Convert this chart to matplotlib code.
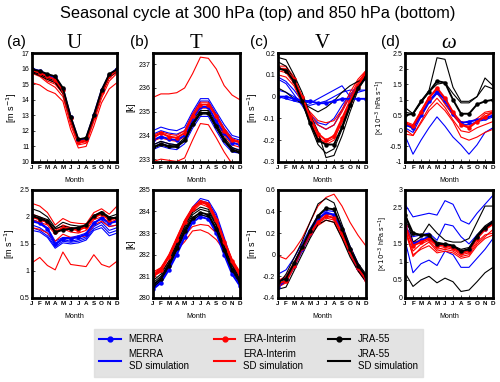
import matplotlib
matplotlib.use('Agg')
import matplotlib.pyplot as plt
from matplotlib.lines import Line2D

plt.rcParams['font.family'] = ['Liberation Sans', 'DejaVu Sans']

months = ['J', 'F', 'M', 'A', 'M', 'J', 'J', 'A', 'S', 'O', 'N', 'D']
x = list(range(12))

# ---- 300 hPa U
u300_merra = [16.0, 15.85, 15.6, 15.45, 14.7, 12.9, 11.4, 11.5, 13.0, 14.6, 15.6, 16.0]
u300_era = [15.9, 15.75, 15.5, 15.3, 14.6, 12.8, 11.3, 11.4, 12.9, 14.5, 15.5, 15.9]
u300_jra = [15.95, 15.85, 15.65, 15.5, 14.75, 12.9, 11.45, 11.55, 13.0, 14.6, 15.65, 15.95]
u300_merra_sd = [[15.95, 15.8, 15.55, 15.4, 14.65, 12.85, 11.35, 11.45, 12.95, 14.55, 15.55, 15.95],
                 [15.9, 15.75, 15.45, 15.3, 14.6, 12.8, 11.3, 11.4, 12.9, 14.5, 15.5, 15.9]]
u300_era_sd = [[15.1, 14.95, 14.6, 14.4, 13.9, 12.1, 10.9, 11.0, 12.3, 13.8, 14.7, 15.1],
               [15.8, 15.6, 15.2, 15.0, 14.4, 12.6, 11.2, 11.3, 12.8, 14.3, 15.4, 15.8],
               [15.85, 15.65, 15.35, 15.1, 14.5, 12.7, 11.25, 11.35, 12.85, 14.4, 15.45, 15.85],
               [15.7, 15.5, 15.1, 14.8, 14.2, 12.4, 11.1, 11.2, 12.6, 14.1, 15.2, 15.7]]
u300_jra_sd = [[15.75, 15.55, 15.3, 15.1, 14.4, 12.7, 11.3, 11.4, 12.8, 14.4, 15.45, 15.8],
               [15.8, 15.65, 15.4, 15.2, 14.5, 12.75, 11.35, 11.45, 12.9, 14.5, 15.5, 15.85]]

# ---- 300 hPa T
t300_merra = [233.8, 233.95, 233.85, 233.8, 234.0, 234.7, 235.2, 235.2, 234.6, 234.1, 233.7, 233.6]
t300_era = [233.9, 234.1, 233.95, 233.9, 234.1, 234.8, 235.3, 235.3, 234.8, 234.2, 233.8, 233.7]
t300_jra = [233.5, 233.65, 233.55, 233.55, 233.8, 234.5, 234.95, 234.95, 234.4, 233.8, 233.4, 233.3]
t300_merra_sd = [[234.2, 234.35, 234.25, 234.2, 234.35, 235.0, 235.55, 235.55, 235.0, 234.45, 234.0, 233.9],
                 [234.05, 234.2, 234.1, 234.05, 234.2, 234.9, 235.45, 235.45, 234.9, 234.3, 233.9, 233.8],
                 [233.6, 233.75, 233.65, 233.6, 233.8, 234.45, 234.95, 234.95, 234.35, 233.8, 233.45, 233.4],
                 [233.4, 233.55, 233.45, 233.4, 233.65, 234.3, 234.8, 234.8, 234.2, 233.65, 233.3, 233.25]]
t300_era_sd = [[235.6, 235.75, 235.75, 235.8, 236.0, 236.6, 237.3, 237.25, 236.8, 236.1, 235.7, 235.5],
               [232.9, 233.0, 232.95, 232.9, 233.05, 233.8, 234.5, 234.45, 233.9, 233.3, 232.8, 232.7],
               [234.0, 234.15, 234.05, 234.0, 234.2, 234.9, 235.4, 235.4, 234.85, 234.3, 233.85, 233.75],
               [233.75, 233.9, 233.8, 233.75, 233.95, 234.65, 235.15, 235.15, 234.6, 234.0, 233.6, 233.5]]
t300_jra_sd = [[233.45, 233.6, 233.5, 233.5, 233.75, 234.4, 234.9, 234.9, 234.3, 233.75, 233.35, 233.25],
               [233.6, 233.75, 233.65, 233.6, 233.9, 234.6, 235.05, 235.05, 234.5, 233.9, 233.5, 233.35]]

# ---- 300 hPa V
v300_merra = [0.0, 0.0, -0.01, -0.02, -0.02, -0.03, -0.03, -0.02, -0.01, -0.01, -0.01, -0.01]
v300_era = [0.13, 0.12, 0.08, 0.0, -0.09, -0.17, -0.2, -0.18, -0.1, -0.02, 0.05, 0.11]
v300_jra = [0.13, 0.12, 0.07, -0.02, -0.12, -0.2, -0.22, -0.22, -0.14, -0.04, 0.04, 0.09]
v300_merra_sd = [[0.03, 0.02, 0.0, -0.02, -0.03, -0.01, 0.01, 0.03, 0.05, 0.0, 0.02, 0.03],
                 [0.08, 0.06, 0.01, -0.04, -0.1, -0.13, -0.15, -0.13, -0.06, 0.0, 0.05, 0.08],
                 [0.09, 0.07, 0.03, -0.02, -0.08, -0.12, -0.13, -0.1, -0.04, 0.01, 0.05, 0.09],
                 [0.0, -0.01, -0.02, -0.03, -0.04, -0.03, -0.02, 0.0, 0.02, 0.03, 0.03, 0.03]]
v300_era_sd = [[0.14, 0.14, 0.09, 0.0, -0.1, -0.18, -0.22, -0.2, -0.11, -0.02, 0.06, 0.12],
               [0.12, 0.11, 0.06, -0.02, -0.08, -0.13, -0.15, -0.13, -0.07, 0.0, 0.07, 0.11],
               [0.1, 0.09, 0.05, -0.03, -0.07, -0.11, -0.12, -0.11, -0.06, 0.02, 0.08, 0.12],
               [0.13, 0.13, 0.07, -0.01, -0.11, -0.19, -0.21, -0.19, -0.12, -0.03, 0.05, 0.1]]
v300_jra_sd = [[0.18, 0.17, 0.1, 0.02, -0.08, -0.16, -0.28, -0.27, -0.18, -0.07, 0.03, 0.09],
               [0.04, 0.02, -0.01, -0.03, -0.05, -0.07, -0.05, -0.02, 0.02, 0.05, 0.07, 0.08],
               [0.16, 0.14, 0.08, -0.02, -0.13, -0.22, -0.26, -0.24, -0.15, -0.05, 0.05, 0.1]]

# ---- 300 hPa omega
w300_merra = [0.2, 0.1, 0.5, 0.95, 1.25, 1.0, 0.55, 0.25, 0.3, 0.35, 0.4, 0.5]
w300_era = [0.25, 0.15, 0.6, 1.05, 1.38, 1.05, 0.6, 0.2, 0.1, 0.3, 0.45, 0.6]
w300_jra = [0.5, 0.55, 0.95, 1.25, 1.6, 1.55, 1.0, 0.55, 0.55, 0.85, 0.95, 1.0]
w300_merra_sd = [[-0.15, -0.75, -0.3, 0.1, 0.45, 0.15, -0.2, -0.45, -0.75, -0.45, -0.05, 0.1],
                 [0.1, -0.05, 0.45, 0.9, 1.2, 0.9, 0.5, 0.2, 0.2, 0.3, 0.35, 0.45]]
w300_era_sd = [[0.05, -0.15, 0.3, 0.75, 1.05, 0.75, 0.35, 0.0, -0.05, 0.1, 0.2, 0.3],
               [-0.1, -0.15, 0.25, 0.65, 0.9, 0.65, 0.3, -0.2, -0.3, -0.2, -0.05, 0.05],
               [0.3, 0.2, 0.65, 1.1, 1.3, 1.0, 0.6, 0.3, 0.25, 0.4, 0.6, 0.65],
               [0.25, 0.05, 0.5, 0.95, 1.25, 0.85, 0.5, 0.2, 0.15, 0.3, 0.55, 0.6]]
w300_jra_sd = [[0.75, 0.55, 0.95, 1.3, 2.35, 2.3, 1.4, 0.95, 0.95, 1.1, 1.7, 1.45],
               [0.6, 0.55, 0.9, 1.25, 1.5, 1.55, 1.2, 0.9, 0.9, 1.1, 1.45, 1.35]]

# ---- 850 hPa U
u850_merra = [1.92, 1.88, 1.78, 1.5, 1.6, 1.6, 1.62, 1.68, 1.88, 1.98, 1.88, 1.92]
u850_era = [2.0, 1.95, 1.9, 1.72, 1.8, 1.78, 1.75, 1.82, 2.0, 2.05, 1.95, 1.98]
u850_jra = [2.02, 1.97, 1.92, 1.72, 1.76, 1.78, 1.8, 1.85, 2.02, 2.08, 1.98, 1.98]
u850_merra_sd = [[1.8, 1.75, 1.65, 1.45, 1.55, 1.53, 1.55, 1.6, 1.78, 1.85, 1.7, 1.75],
                 [1.85, 1.8, 1.7, 1.48, 1.58, 1.55, 1.58, 1.63, 1.82, 1.9, 1.75, 1.8],
                 [1.75, 1.72, 1.62, 1.42, 1.52, 1.5, 1.52, 1.57, 1.75, 1.8, 1.65, 1.7],
                 [1.95, 1.9, 1.8, 1.55, 1.62, 1.62, 1.65, 1.7, 1.9, 1.95, 1.82, 1.85]]
u850_era_sd = [[1.15, 1.25, 1.1, 1.02, 1.35, 1.12, 1.1, 1.08, 1.3, 1.12, 1.07, 1.18],
               [2.25, 2.2, 2.08, 1.85, 1.97, 1.9, 1.88, 1.87, 2.08, 2.15, 2.05, 2.2],
               [1.8, 1.77, 1.7, 1.55, 1.68, 1.62, 1.62, 1.65, 1.85, 1.92, 1.82, 1.85],
               [2.05, 2.0, 1.92, 1.75, 1.85, 1.8, 1.78, 1.8, 1.98, 2.05, 1.95, 2.0],
               [1.95, 1.9, 1.85, 1.68, 1.78, 1.72, 1.7, 1.75, 1.95, 2.0, 1.9, 1.95]]
u850_jra_sd = [[2.15, 2.1, 2.0, 1.8, 1.9, 1.85, 1.83, 1.83, 2.02, 2.1, 2.0, 2.05],
               [2.05, 2.0, 1.95, 1.78, 1.83, 1.8, 1.78, 1.82, 2.0, 2.07, 1.97, 2.0]]

# ---- 850 hPa T
t850_merra = [280.4, 280.7, 281.3, 282.0, 282.8, 283.5, 283.75, 283.65, 283.0, 282.0, 281.1, 280.55]
t850_era = [281.0, 281.3, 281.9, 282.7, 283.5, 284.1, 284.45, 284.3, 283.6, 282.6, 281.7, 281.1]
t850_jra = [280.6, 280.9, 281.5, 282.3, 283.1, 283.7, 283.95, 283.85, 283.2, 282.2, 281.3, 280.75]
t850_merra_sd = [[280.5, 280.9, 281.6, 282.5, 283.5, 284.2, 284.6, 284.5, 283.9, 282.8, 281.7, 280.7],
                 [280.45, 280.8, 281.5, 282.4, 283.4, 284.1, 284.5, 284.4, 283.8, 282.7, 281.6, 280.6],
                 [280.4, 280.75, 281.35, 282.1, 282.9, 283.6, 283.85, 283.75, 283.1, 282.1, 281.15, 280.55]]
t850_era_sd = [[281.1, 281.4, 282.0, 282.8, 283.6, 284.2, 284.5, 284.4, 283.7, 282.7, 281.8, 281.2],
               [280.95, 281.25, 281.85, 282.6, 283.4, 284.0, 284.35, 284.2, 283.5, 282.5, 281.6, 281.0],
               [281.05, 281.35, 281.95, 282.75, 283.55, 284.15, 284.45, 284.35, 283.65, 282.65, 281.75, 281.15],
               [281.2, 281.4, 281.9, 282.4, 282.9, 283.3, 283.4, 283.35, 283.0, 282.4, 281.7, 281.2],
               [281.0, 281.2, 281.7, 282.2, 282.6, 283.1, 283.15, 283.0, 282.7, 282.2, 281.6, 281.0]]
t850_jra_sd = [[280.7, 281.0, 281.6, 282.4, 283.2, 283.85, 284.1, 284.0, 283.35, 282.35, 281.4, 280.85],
               [280.5, 280.8, 281.4, 282.2, 283.0, 283.6, 283.85, 283.75, 283.1, 282.1, 281.2, 280.65],
               [280.8, 281.1, 281.7, 282.5, 283.3, 283.95, 284.2, 284.1, 283.4, 282.4, 281.5, 280.9]]

# ---- 850 hPa V
v850_merra = [-0.3, -0.23, -0.1, 0.05, 0.2, 0.33, 0.39, 0.37, 0.22, 0.04, -0.12, -0.22]
v850_era = [-0.27, -0.24, -0.1, 0.06, 0.2, 0.3, 0.36, 0.34, 0.2, 0.03, -0.12, -0.23]
v850_jra = [-0.25, -0.22, -0.08, 0.07, 0.22, 0.36, 0.43, 0.42, 0.24, 0.05, -0.1, -0.2]
v850_merra_sd = [[-0.18, -0.14, -0.03, 0.1, 0.24, 0.36, 0.41, 0.4, 0.26, 0.08, -0.08, -0.2],
                 [-0.3, -0.25, -0.12, 0.03, 0.18, 0.3, 0.36, 0.34, 0.2, 0.02, -0.14, -0.25],
                 [-0.25, -0.2, -0.08, 0.06, 0.21, 0.34, 0.39, 0.37, 0.23, 0.05, -0.11, -0.22]]
v850_era_sd = [[-0.01, -0.04, 0.04, 0.15, 0.3, 0.45, 0.53, 0.56, 0.45, 0.3, 0.18, 0.08],
               [-0.28, -0.25, -0.1, 0.05, 0.19, 0.29, 0.34, 0.32, 0.18, 0.02, -0.13, -0.24],
               [-0.24, -0.2, -0.07, 0.07, 0.21, 0.32, 0.38, 0.36, 0.22, 0.04, -0.1, -0.2],
               [-0.3, -0.26, -0.12, 0.04, 0.17, 0.27, 0.32, 0.3, 0.16, 0.0, -0.15, -0.25]]
v850_jra_sd = [[-0.28, -0.18, -0.03, 0.12, 0.3, 0.47, 0.52, 0.48, 0.28, 0.08, -0.08, -0.18],
               [-0.32, -0.3, -0.15, 0.0, 0.15, 0.28, 0.32, 0.3, 0.15, -0.02, -0.15, -0.25]]

# ---- 850 hPa omega
w850_merra = [2.0, 1.5, 1.6, 1.7, 1.48, 1.48, 1.42, 1.28, 1.32, 1.68, 1.92, 2.08]
w850_era = [2.0, 1.45, 1.55, 1.65, 1.45, 1.45, 1.4, 1.25, 1.3, 1.65, 1.9, 2.05]
w850_jra = [2.3, 1.8, 1.75, 1.75, 1.5, 1.5, 1.45, 1.3, 1.35, 1.7, 1.95, 2.1]
w850_merra_sd = [[2.6, 2.25, 2.3, 2.35, 2.3, 2.7, 2.6, 2.15, 2.05, 2.35, 2.6, 2.85],
                 [2.0, 1.7, 1.75, 1.8, 1.6, 2.05, 2.0, 1.7, 1.5, 1.75, 1.95, 2.15],
                 [1.6, 0.7, 0.95, 1.05, 0.9, 1.3, 1.2, 0.85, 0.85, 1.1, 1.35, 1.65]]
w850_era_sd = [[1.95, 1.15, 1.4, 1.55, 1.3, 1.35, 1.3, 1.15, 1.2, 1.5, 1.7, 1.9],
               [1.9, 1.3, 1.5, 1.6, 1.35, 1.4, 1.35, 1.2, 1.25, 1.55, 1.75, 1.8],
               [2.05, 1.55, 1.6, 1.7, 1.5, 1.5, 1.45, 1.3, 1.35, 1.7, 1.95, 2.1],
               [1.85, 1.2, 1.35, 1.45, 1.25, 1.3, 1.25, 1.1, 1.15, 1.45, 1.65, 1.75]]
w850_jra_sd = [[0.7, 0.32, 0.5, 0.6, 0.42, 0.55, 0.45, 0.18, 0.22, 0.45, 0.7, 0.85],
               [2.4, 1.55, 1.7, 2.05, 1.8, 1.6, 1.55, 1.55, 1.65, 2.1, 2.55, 2.55],
               [2.15, 1.75, 1.75, 1.7, 1.55, 1.5, 1.45, 1.35, 1.4, 1.75, 2.0, 2.15]]

blue, red = '#0000ff', '#ff0000'

fig = plt.figure(figsize=(5.0, 3.82), dpi=100)
fig.text(0.515, 0.965, 'Seasonal cycle at 300 hPa (top) and 850 hPa (bottom)',
         ha='center', va='center', fontsize=11.8)

lefts = [0.064, 0.306, 0.556, 0.81]
widths = [0.170, 0.174, 0.176, 0.176]
rows = [(0.576, 0.285), (0.220, 0.283)]
letter_x = [-0.29, -0.27, -0.32, -0.27]

panels = [
    [(u300_merra, u300_era, u300_jra, u300_merra_sd, u300_era_sd, u300_jra_sd, (10, 17), range(10, 18)),
     (t300_merra, t300_era, t300_jra, t300_merra_sd, t300_era_sd, t300_jra_sd, (232.88, 237.47), range(233, 238)),
     (v300_merra, v300_era, v300_jra, v300_merra_sd, v300_era_sd, v300_jra_sd, (-0.3, 0.2),
      [-0.3, -0.2, -0.1, 0, 0.1, 0.2]),
     (w300_merra, w300_era, w300_jra, w300_merra_sd, w300_era_sd, w300_jra_sd, (-1, 2.5),
      [-1, -0.5, 0, 0.5, 1, 1.5, 2, 2.5])],
    [(u850_merra, u850_era, u850_jra, u850_merra_sd, u850_era_sd, u850_jra_sd, (0.5, 2.5),
      [0.5, 1, 1.5, 2, 2.5]),
     (t850_merra, t850_era, t850_jra, t850_merra_sd, t850_era_sd, t850_jra_sd, (280, 285), range(280, 286)),
     (v850_merra, v850_era, v850_jra, v850_merra_sd, v850_era_sd, v850_jra_sd, (-0.4, 0.6),
      [-0.4, -0.2, 0, 0.2, 0.4, 0.6]),
     (w850_merra, w850_era, w850_jra, w850_merra_sd, w850_era_sd, w850_jra_sd, (0, 3),
      [0, 0.5, 1, 1.5, 2, 2.5, 3])],
]

ylabels = ['[m s$^{-1}$]', '[k]', '[m s$^{-1}$]', '[$\\times10^{-3}$ hPa s$^{-1}$]']
titles = ['U', 'T', 'V', '\u03c9']
letters = ['(a)', '(b)', '(c)', '(d)']

for r, (bot, h) in enumerate(rows):
    for c in range(4):
        merra, era, jra, msd, esd, jsd, ylim, yt = panels[r][c]
        ax = fig.add_axes([lefts[c], bot, widths[c], h])
        for line in msd:
            ax.plot(x, line, color=blue, lw=0.8)
        for line in esd:
            ax.plot(x, line, color=red, lw=0.8)
        for line in jsd:
            ax.plot(x, line, color='black', lw=0.8)
        ax.plot(x, merra, color=blue, lw=1.4, marker='o', ms=2.2)
        ax.plot(x, era, color=red, lw=1.4, marker='o', ms=2.2)
        ax.plot(x, jra, color='black', lw=1.4, marker='o', ms=2.2)
        ax.set_xlim(0, 11)
        ax.set_ylim(*ylim)
        ax.set_xticks(x)
        ax.set_xticklabels(months, fontsize=4.5, fontweight='bold')
        ax.set_yticks(list(yt))
        ax.set_yticklabels(['%g' % v for v in yt], fontsize=5)
        ax.tick_params(direction='in', length=2, width=0.5, pad=2)
        for sp in ax.spines.values():
            sp.set_linewidth(2)
        ax.set_xlabel('Month', fontsize=5, labelpad=5)
        ax.set_ylabel(ylabels[c], fontsize=6.5 if c < 3 else 5, labelpad=2)
        if r == 0:
            ax.set_title(titles[c], fontsize=15, family=['Liberation Serif', 'DejaVu Serif'],
                         fontstyle='italic' if c == 3 else 'normal', pad=3)
            ax.text(letter_x[c], 1.04, letters[c], transform=ax.transAxes, fontsize=11, va='bottom')

handles = [
    Line2D([], [], color=blue, lw=1.5, marker='o', ms=3.5),
    Line2D([], [], color=blue, lw=1.5),
    Line2D([], [], color=red, lw=1.5, marker='o', ms=3.5),
    Line2D([], [], color=red, lw=1.5),
    Line2D([], [], color='black', lw=1.5, marker='o', ms=3.5),
    Line2D([], [], color='black', lw=1.5),
]
labels = ['MERRA', 'MERRA\nSD simulation', 'ERA-Interim', 'ERA-Interim\nSD simulation',
          'JRA-55', 'JRA-55\nSD simulation']
leg = fig.legend(handles, labels, ncol=3, loc='center', bbox_to_anchor=(0.517, 0.077),
                 fontsize=7, frameon=True, fancybox=False, columnspacing=2.6,
                 handlelength=2.2, borderpad=0.6, labelspacing=0.5)
leg.get_frame().set_facecolor('#dcdcdc')
leg.get_frame().set_edgecolor('#dcdcdc')

fig.savefig('out.png', dpi=100)
